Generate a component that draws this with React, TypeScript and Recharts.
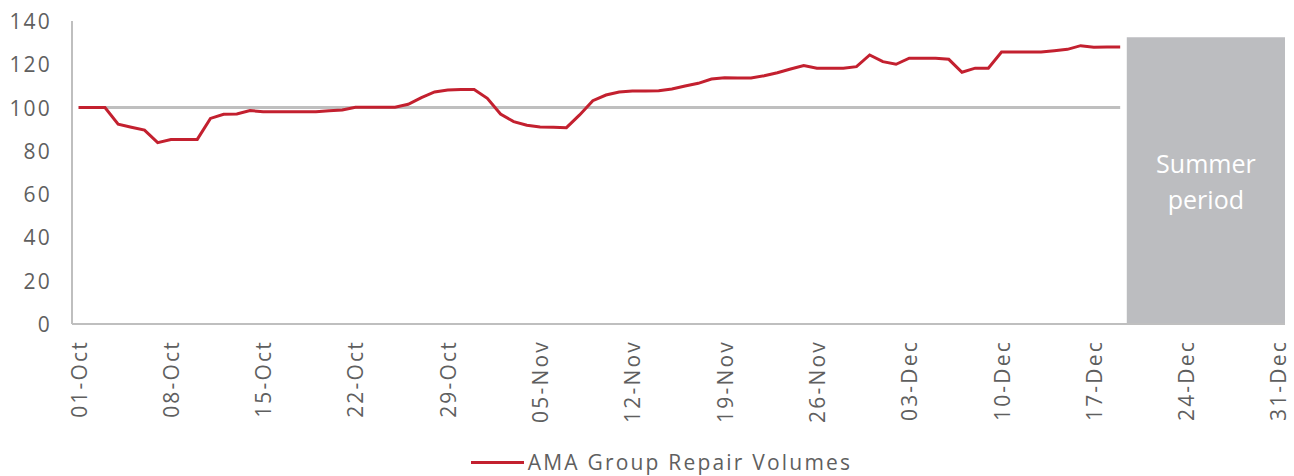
import {
  ComposedChart,
  Line,
  XAxis,
  YAxis,
  ReferenceLine,
  ReferenceArea,
  Legend,
} from 'recharts';

const dates = [
  '01-Oct', '02-Oct', '03-Oct', '04-Oct', '05-Oct', '06-Oct', '07-Oct', '08-Oct', '09-Oct', '10-Oct',
  '11-Oct', '12-Oct', '13-Oct', '14-Oct', '15-Oct', '16-Oct', '17-Oct', '18-Oct', '19-Oct', '20-Oct',
  '21-Oct', '22-Oct', '23-Oct', '24-Oct', '25-Oct', '26-Oct', '27-Oct', '28-Oct', '29-Oct', '30-Oct',
  '31-Oct', '01-Nov', '02-Nov', '03-Nov', '04-Nov', '05-Nov', '06-Nov', '07-Nov', '08-Nov', '09-Nov',
  '10-Nov', '11-Nov', '12-Nov', '13-Nov', '14-Nov', '15-Nov', '16-Nov', '17-Nov', '18-Nov', '19-Nov',
  '20-Nov', '21-Nov', '22-Nov', '23-Nov', '24-Nov', '25-Nov', '26-Nov', '27-Nov', '28-Nov', '29-Nov',
  '30-Nov', '01-Dec', '02-Dec', '03-Dec', '04-Dec', '05-Dec', '06-Dec', '07-Dec', '08-Dec', '09-Dec',
  '10-Dec', '11-Dec', '12-Dec', '13-Dec', '14-Dec', '15-Dec', '16-Dec', '17-Dec', '18-Dec', '19-Dec',
  '20-Dec', '21-Dec', '22-Dec', '23-Dec', '24-Dec', '25-Dec', '26-Dec', '27-Dec', '28-Dec', '29-Dec',
  '30-Dec', '31-Dec',
];

// index, rebased to 100 on 01-Oct; no data from 20-Dec
const repairVolumes = [
  100, 100, 100, 92.3, 90.9, 89.6, 83.8, 85.2, 85.3, 85.3,
  95.0, 96.9, 97.0, 98.6, 98.1, 98.1, 98.1, 98.1, 98.1, 98.5,
  98.9, 100.1, 100.1, 100.1, 100.2, 101.5, 104.6, 107.2, 108.1, 108.3,
  108.4, 104.3, 97.0, 93.5, 91.8, 91.0, 90.9, 90.7, 96.6, 103.2,
  105.8, 107.2, 107.6, 107.6, 107.8, 108.6, 110.0, 111.2, 113.2, 113.8,
  113.7, 113.7, 114.7, 116.1, 117.8, 119.4, 118.2, 118.2, 118.2, 118.9,
  124.3, 121.2, 120.0, 122.8, 122.8, 122.8, 122.3, 116.3, 118.2, 118.2,
  125.7, 125.7, 125.7, 125.7, 126.3, 126.9, 128.6, 127.9, 128.0, 128.0,
];

const yTicks = [0, 20, 40, 60, 80, 100, 120, 140];
const baseline = 100;
const baselineEnd = '19-Dec';
const summerStart = '20-Dec';
const summerEnd = '31-Dec';
const summerTop = 132.5;

const data = dates.map((date, i) => ({
  date,
  volume: i < repairVolumes.length ? repairVolumes[i] : null,
}));

const FONT = '"Open Sans", sans-serif';
const RED = '#C3202F';
const GREY = '#BFBFBF';
const TEXT = '#5f5f5f';

function DateTick({ x, y, payload }: any) {
  return (
    <text
      transform={`translate(${x},${y + 14}) rotate(-90)`}
      textAnchor="end"
      dominantBaseline="central"
      fill={TEXT}
      fontSize={21}
      letterSpacing={2.2}
      fontFamily={FONT}
    >
      {payload.value}
    </text>
  );
}

function ValueTick({ x, y, payload }: any) {
  return (
    <text
      x={x}
      y={y}
      textAnchor="end"
      dominantBaseline="central"
      fill={TEXT}
      fontSize={21}
      letterSpacing={2.2}
      fontFamily={FONT}
    >
      {payload.value}
    </text>
  );
}

function SummerLabel({ viewBox }: any) {
  const cx = viewBox.x + viewBox.width / 2;
  const cy = viewBox.y + viewBox.height / 2;
  return (
    <text textAnchor="middle" fill="#ffffff" fontSize={25} fontFamily={FONT}>
      <tspan x={cx} y={cy - 18} dominantBaseline="central">Summer</tspan>
      <tspan x={cx} y={cy + 18} dominantBaseline="central">period</tspan>
    </text>
  );
}

function LegendContent() {
  return (
    <div
      style={{
        display: 'flex',
        justifyContent: 'center',
        alignItems: 'center',
        paddingTop: 14,
        paddingLeft: 28,
        fontFamily: FONT,
        fontSize: 21,
        letterSpacing: 2.2,
        color: TEXT,
      }}
    >
      <span style={{ display: 'inline-block', width: 53, height: 3, background: RED, marginRight: 4 }} />
      <span>AMA Group Repair Volumes</span>
    </div>
  );
}

export default function App() {
  return (
    <div style={{ position: 'absolute', left: 0, top: 0 }}>
      <ComposedChart
        width={1294}
        height={476}
        data={data}
        margin={{ top: 21, right: 9, left: 10, bottom: 0 }}
      >
        <ReferenceArea
          x1={summerStart}
          x2={summerEnd}
          y1={0}
          y2={summerTop}
          fill="#BCBDC0"
          fillOpacity={1}
          stroke="none"
          label={<SummerLabel />}
        />
        <XAxis
          dataKey="date"
          scale="band"
          interval={6}
          height={110}
          tickLine={false}
          tickSize={0}
          axisLine={{ stroke: GREY, strokeWidth: 2 }}
          tick={<DateTick />}
        />
        <YAxis
          domain={[0, 140]}
          ticks={yTicks}
          width={62}
          tickLine={false}
          tickSize={0}
          tickMargin={20}
          axisLine={{ stroke: GREY, strokeWidth: 2 }}
          tick={<ValueTick />}
        />
        <ReferenceLine
          segment={[
            { x: dates[0], y: baseline },
            { x: baselineEnd, y: baseline },
          ]}
          stroke={GREY}
          strokeWidth={3}
        />
        <Line
          dataKey="volume"
          name="AMA Group Repair Volumes"
          stroke={RED}
          strokeWidth={3}
          dot={false}
          activeDot={false}
          isAnimationActive={false}
        />
        <Legend content={<LegendContent />} wrapperStyle={{ height: 42 }} verticalAlign="bottom" />
      </ComposedChart>
    </div>
  );
}
